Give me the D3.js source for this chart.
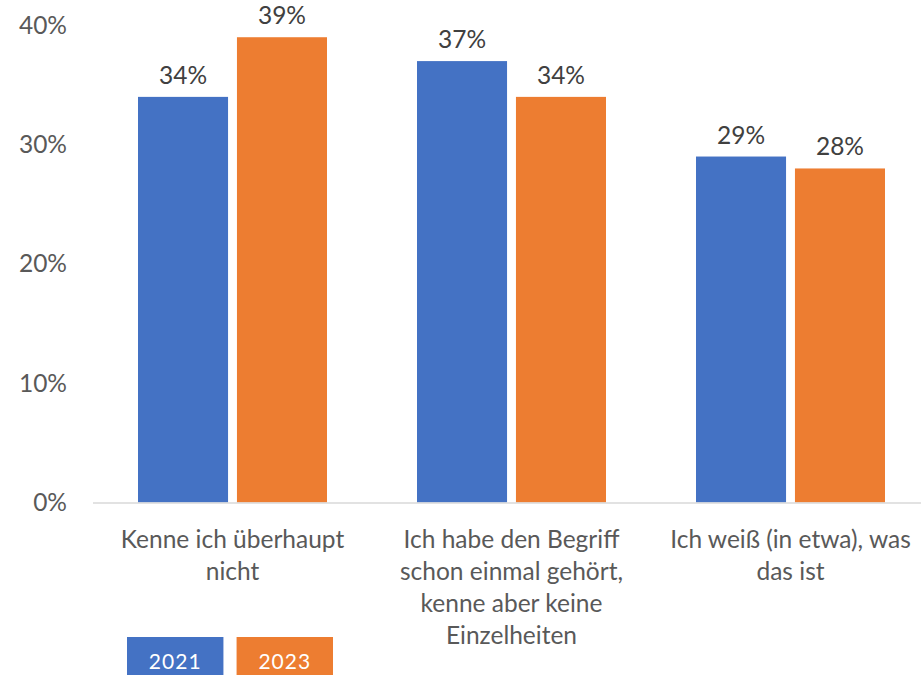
<!doctype html>
<html lang="de">
  <head>
    <meta charset="utf-8">
    <title>chart</title>
    <script src="https://d3js.org/d3.v7.min.js"></script>
    <style>
      body { margin: 0; background: #fff; }
      svg { display: block; font-family: Lato, "Open Sans", sans-serif; }
    </style>
  </head>
  <body>
    <svg></svg>
    <script>
      var categories = [
        ["Kenne ich überhaupt", "nicht"],
        ["Ich habe den Begriff", "schon einmal gehört,", "kenne aber keine", "Einzelheiten"],
        ["Ich weiß (in etwa), was", "das ist"]
      ];
      var years = ["2021", "2023"];
      var values2021 = [34, 37, 29];
      var values2023 = [39, 34, 28];
      var yTicks = [0, 10, 20, 30, 40];
      var colors = ["#4472C4", "#ED7D31"];

      var W = 921, H = 675;
      var svg = d3.select("svg").attr("width", W).attr("height", H);

      var x0 = d3.scaleBand().domain(d3.range(categories.length))
        .range([93, 930]).paddingInner(0).paddingOuter(0);
      var x1 = d3.scaleBand().domain(years)
        .range([45, x0.bandwidth() - 45]).paddingInner(0.09);
      var y = d3.scaleLinear().domain([0, 40]).range([502.5, 25.3]);

      // y axis labels (no line, no grid)
      svg.append("g").selectAll("text").data(yTicks).enter()
        .append("text")
        .attr("x", 67)
        .attr("y", function(d){ return y(d); })
        .attr("dy", "0.35em")
        .attr("text-anchor", "end")
        .attr("fill", "#595959")
        .attr("font-size", 24.5)
        .text(function(d){ return d + "%"; });

      var series = [values2021, values2023];
      var groups = svg.append("g").selectAll("g").data(categories).enter()
        .append("g")
        .attr("transform", function(d, i){ return "translate(" + x0(i) + ",0)"; });

      groups.each(function(c, i){
        var g = d3.select(this);
        years.forEach(function(yr, k){
          var v = series[k][i];
          g.append("rect")
            .attr("x", x1(yr))
            .attr("y", y(v))
            .attr("width", x1.bandwidth())
            .attr("height", y(0) - y(v))
            .attr("fill", colors[k]);
          g.append("text")
            .attr("x", x1(yr) + x1.bandwidth() / 2)
            .attr("y", y(v) - 13)
            .attr("text-anchor", "middle")
            .attr("fill", "#404040")
            .attr("font-size", 24.5)
            .text(v + "%");
        });
        // category label
        g.append("text")
          .attr("text-anchor", "middle")
          .attr("fill", "#595959")
          .attr("font-size", 24.5)
          .selectAll("tspan").data(c).enter()
          .append("tspan")
          .attr("x", x0.bandwidth() / 2)
          .attr("y", function(d, j){ return 548 + j * 32; })
          .text(function(d){ return d; });
      });

      // baseline
      svg.append("line")
        .attr("x1", 93).attr("x2", W)
        .attr("y1", y(0) + 0.5).attr("y2", y(0) + 0.5)
        .attr("stroke", "#d9d9d9").attr("stroke-width", 1.5);

      // legend boxes with year inside
      var legX = d3.scaleBand().domain(years).range([127, 333]).paddingInner(0.12);
      var leg = svg.append("g").selectAll("g").data(years).enter().append("g");
      leg.append("rect")
        .attr("x", function(d){ return legX(d); })
        .attr("y", 637)
        .attr("width", legX.bandwidth())
        .attr("height", 40)
        .attr("fill", function(d, i){ return colors[i]; });
      leg.append("text")
        .attr("x", function(d){ return legX(d) + legX.bandwidth() / 2; })
        .attr("y", 669)
        .attr("text-anchor", "middle")
        .attr("fill", "#fff")
        .attr("font-size", 21)
        .attr("letter-spacing", 1)
        .text(function(d){ return d; });
    </script>
  </body>
</html>
